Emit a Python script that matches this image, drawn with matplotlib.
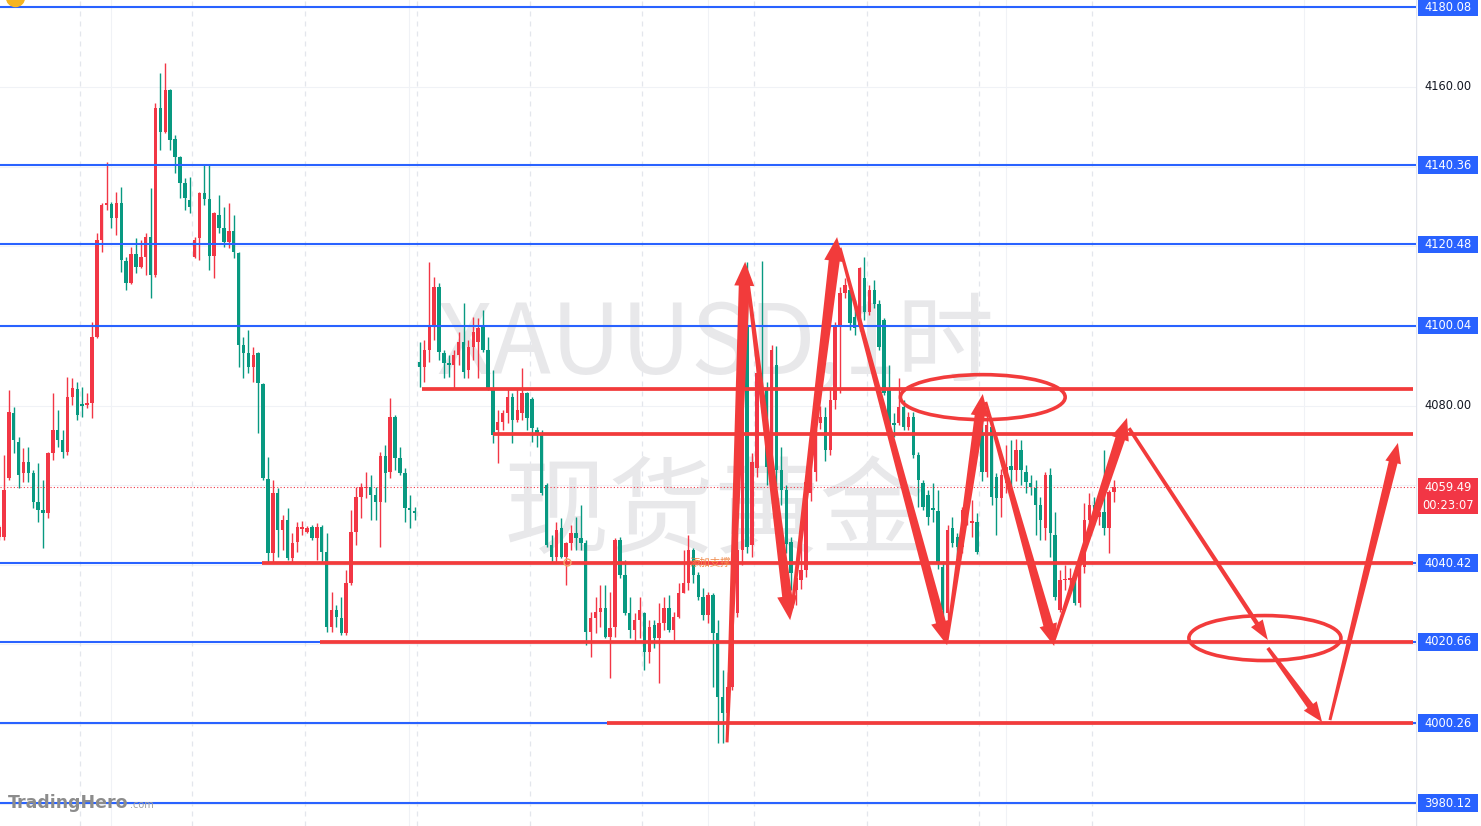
import numpy as np
import matplotlib.pyplot as plt
from matplotlib.patches import Polygon, Ellipse, Rectangle
from matplotlib.transforms import IdentityTransform

# XAUUSD 1h candles (index 0 = leftmost, partly cut)
opens = [
    4046.9, 4046.9, 4061.8, 4078.1, 4070.8, 4063.0, 4065.8, 4063.0, 4055.7, 4053.7,
    4053.0, 4068.1, 4073.9, 4071.3, 4068.3, 4082.1, 4084.1, 4080.2, 4080.1, 4080.6,
    4097.2, 4121.6, 4130.4, 4130.6, 4127.1, 4130.9, 4116.3, 4110.8, 4118.1, 4114.8,
    4117.3, 4122.3, 4112.8, 4154.8, 4148.7, 4159.3, 4146.9, 4142.4, 4135.9, 4131.6,
    4117.3, 4122.1, 4133.4, 4131.9, 4117.6, 4127.9, 4124.6, 4121.1, 4123.9, 4118.3,
    4095.2, 4093.2, 4089.7, 4093.2, 4085.4, 4061.5, 4042.9, 4058.0, 4048.7, 4051.2,
    4041.7, 4045.7, 4049.0, 4048.2, 4049.5, 4046.7, 4049.5, 4043.2, 4024.3, 4028.6,
    4026.6, 4022.8, 4035.4, 4048.2, 4057.0, 4059.3, 4059.5, 4057.5, 4055.7, 4067.3,
    4063.3, 4077.1, 4066.8, 4063.0, 4054.2, 4053.3, 4090.9, 4089.7, 4093.9, 4100.2,
    4109.8, 4093.2, 4090.7, 4090.2, 4092.7, 4096.0, 4088.9, 4094.7, 4096.0, 4099.7,
    4093.9, 4083.9, 4073.9, 4075.8, 4078.1, 4082.1, 4076.3, 4078.1, 4083.1, 4081.6,
    4073.9, 4073.1, 4060.0, 4045.0, 4041.9, 4049.2, 4041.9, 4045.4, 4047.9, 4046.7,
    4045.4, 4023.1, 4026.6, 4028.1, 4029.1, 4021.8, 4024.3, 4046.2, 4037.4, 4027.8,
    4023.6, 4026.1, 4027.8, 4018.1, 4024.8, 4021.6, 4025.3, 4029.1, 4023.6, 4026.8,
    4032.9, 4035.4, 4043.7, 4037.4, 4031.9, 4027.3, 4032.4, 4022.8, 4006.7, 4002.7,
    4009.3, 4027.8, 4043.7, 4099.7, 4044.9, 4064.3, 4088.2, 4083.9, 4064.5, 4090.2,
    4063.8, 4058.8, 4045.6, 4033.6, 4036.2, 4038.6, 4058.0, 4063.3, 4075.6, 4077.1,
    4068.8, 4081.4, 4099.7, 4108.3, 4109.0, 4102.2, 4100.2, 4112.0, 4103.5, 4109.0,
    4105.6, 4101.5, 4083.9, 4075.6, 4075.6, 4079.6, 4074.6, 4077.1, 4067.6, 4060.5,
    4057.5, 4054.2, 4053.5, 4039.4, 4027.8, 4049.2, 4046.9, 4044.4, 4053.0, 4050.5,
    4050.7, 4072.6, 4063.3, 4074.6, 4062.0, 4056.7, 4060.5, 4064.8, 4063.8, 4068.8,
    4063.3, 4060.5, 4059.3, 4055.0, 4049.2, 4062.5, 4047.4, 4028.6, 4036.1, 4036.1,
    4036.9, 4030.4, 4039.4, 4051.2, 4055.0, 4052.0, 4053.2, 4049.2, 4058.3,
]
highs = [
    4050.0, 4067.6, 4083.9, 4079.6, 4072.1, 4069.3, 4069.6, 4063.8, 4065.5, 4061.3,
    4068.3, 4083.1, 4078.9, 4073.9, 4087.2, 4086.9, 4085.9, 4084.6, 4083.1, 4101.0,
    4123.3, 4130.9, 4141.2, 4131.1, 4133.6, 4134.9, 4117.3, 4119.8, 4122.1, 4121.6,
    4123.3, 4134.7, 4156.0, 4163.6, 4166.1, 4159.6, 4148.0, 4142.6, 4137.2, 4137.4,
    4122.3, 4133.6, 4140.4, 4140.4, 4128.6, 4132.9, 4129.9, 4130.9, 4127.9, 4118.6,
    4097.2, 4099.0, 4094.7, 4093.4, 4085.7, 4067.1, 4061.3, 4059.3, 4052.5, 4054.2,
    4047.9, 4050.7, 4051.0, 4049.7, 4050.0, 4050.5, 4050.0, 4047.9, 4033.1, 4029.9,
    4031.9, 4038.6, 4053.7, 4059.5, 4060.5, 4063.3, 4062.5, 4059.5, 4068.3, 4070.1,
    4081.9, 4077.6, 4069.6, 4064.3, 4057.5, 4054.5, 4095.9, 4096.5, 4116.1, 4112.3,
    4110.8, 4093.9, 4092.7, 4093.9, 4098.5, 4105.8, 4096.5, 4102.2, 4102.0, 4104.0,
    4097.2, 4088.9, 4078.9, 4078.9, 4084.4, 4083.1, 4084.4, 4089.4, 4083.4, 4082.1,
    4074.6, 4073.9, 4060.5, 4047.4, 4050.7, 4051.7, 4045.6, 4049.9, 4052.0, 4055.0,
    4046.2, 4028.1, 4031.9, 4034.9, 4034.9, 4033.1, 4046.7, 4046.9, 4041.2, 4031.9,
    4027.8, 4031.9, 4028.1, 4026.1, 4026.1, 4030.4, 4031.9, 4032.4, 4028.1, 4035.4,
    4043.7, 4047.4, 4044.2, 4038.1, 4034.1, 4033.1, 4032.9, 4026.1, 4013.5, 4013.0,
    4027.3, 4048.0, 4105.0, 4116.1, 4068.0, 4090.0, 4116.3, 4086.0, 4095.2, 4095.0,
    4069.6, 4060.0, 4047.0, 4040.0, 4050.7, 4062.0, 4066.0, 4074.0, 4080.0, 4079.6,
    4083.9, 4101.0, 4109.8, 4112.0, 4109.8, 4106.5, 4114.8, 4117.3, 4110.3, 4111.5,
    4106.5, 4102.0, 4090.2, 4078.0, 4086.9, 4081.4, 4078.4, 4078.4, 4068.3, 4061.3,
    4058.8, 4060.5, 4058.8, 4041.0, 4050.0, 4052.0, 4048.0, 4054.5, 4058.0, 4056.2,
    4053.0, 4076.0, 4079.5, 4076.0, 4063.0, 4064.0, 4070.0, 4071.3, 4071.5, 4071.3,
    4065.0, 4062.5, 4061.3, 4057.0, 4063.3, 4064.3, 4053.2, 4038.6, 4039.9, 4039.1,
    4038.6, 4040.4, 4055.5, 4058.0, 4057.0, 4056.0, 4068.8, 4058.8, 4061.3,
]
lows = [
    4046.2, 4046.2, 4061.3, 4068.1, 4059.3, 4060.8, 4060.8, 4054.2, 4050.7, 4044.2,
    4051.7, 4066.3, 4069.6, 4066.8, 4067.6, 4080.1, 4076.3, 4077.1, 4079.4, 4076.9,
    4097.0, 4118.6, 4129.1, 4124.6, 4122.8, 4113.5, 4109.0, 4110.6, 4113.3, 4114.5,
    4112.8, 4107.0, 4112.3, 4144.2, 4148.5, 4144.2, 4138.4, 4132.1, 4129.1, 4128.4,
    4117.1, 4116.6, 4130.4, 4114.0, 4112.0, 4123.3, 4119.8, 4119.6, 4117.1, 4089.7,
    4086.9, 4088.2, 4085.9, 4073.1, 4061.3, 4040.4, 4040.4, 4041.9, 4043.7, 4041.2,
    4040.4, 4043.2, 4047.5, 4047.9, 4046.2, 4041.2, 4040.4, 4023.1, 4023.1, 4024.3,
    4022.3, 4022.3, 4034.9, 4044.9, 4051.7, 4056.7, 4051.2, 4051.2, 4044.4, 4055.7,
    4061.8, 4063.8, 4062.5, 4050.7, 4049.2, 4051.2, 4084.6, 4085.9, 4090.9, 4096.5,
    4091.4, 4086.9, 4087.2, 4084.4, 4090.2, 4086.9, 4086.9, 4091.4, 4086.9, 4093.4,
    4083.9, 4070.6, 4065.5, 4073.9, 4075.6, 4070.6, 4075.8, 4076.3, 4073.9, 4070.8,
    4069.6, 4057.5, 4044.4, 4040.7, 4040.7, 4041.7, 4034.9, 4043.7, 4043.7, 4043.7,
    4019.8, 4016.8, 4022.8, 4024.3, 4021.6, 4011.5, 4021.8, 4036.6, 4027.3, 4021.6,
    4020.6, 4021.6, 4013.5, 4015.3, 4019.1, 4010.3, 4023.6, 4023.1, 4021.1, 4026.6,
    4032.9, 4033.6, 4035.4, 4031.1, 4026.1, 4025.3, 4009.3, 3995.2, 3995.2, 4001.0,
    4008.5, 4026.8, 4040.0, 4043.0, 4042.0, 4062.0, 4078.0, 4060.0, 4060.0, 4060.0,
    4055.0, 4043.0, 4033.6, 4030.0, 4034.0, 4037.0, 4056.0, 4061.0, 4074.0, 4066.0,
    4067.6, 4079.0, 4083.1, 4107.0, 4099.0, 4097.7, 4098.8, 4101.5, 4102.7, 4104.5,
    4093.9, 4082.6, 4073.9, 4072.0, 4075.1, 4073.9, 4073.9, 4066.8, 4054.5, 4053.7,
    4050.0, 4050.7, 4039.0, 4022.0, 4026.0, 4044.4, 4042.0, 4043.0, 4050.0, 4046.9,
    4042.8, 4061.0, 4062.0, 4055.0, 4047.4, 4052.0, 4058.0, 4059.0, 4061.0, 4060.0,
    4058.0, 4057.5, 4047.4, 4046.2, 4046.2, 4041.9, 4031.1, 4028.1, 4033.6, 4033.6,
    4029.9, 4029.4, 4038.0, 4049.9, 4050.0, 4050.0, 4047.4, 4042.9, 4055.7,
]
closes = [
    4049.5, 4058.8, 4078.4, 4071.3, 4062.5, 4065.8, 4063.0, 4055.7, 4053.7, 4053.0,
    4068.1, 4073.9, 4071.3, 4068.3, 4082.1, 4084.4, 4077.6, 4080.0, 4080.6, 4097.2,
    4121.6, 4130.4, 4130.6, 4127.1, 4130.9, 4116.6, 4110.8, 4118.1, 4114.8, 4117.3,
    4122.3, 4112.8, 4154.8, 4148.7, 4159.3, 4146.7, 4142.4, 4135.9, 4132.1, 4129.9,
    4121.6, 4133.4, 4131.9, 4117.6, 4128.4, 4124.6, 4121.1, 4123.9, 4118.6, 4095.2,
    4093.2, 4089.7, 4092.7, 4085.7, 4061.8, 4042.9, 4058.0, 4048.7, 4051.2, 4041.7,
    4045.4, 4049.5, 4049.5, 4049.2, 4046.7, 4049.5, 4043.2, 4024.3, 4028.6, 4026.8,
    4022.8, 4035.4, 4048.2, 4057.0, 4059.5, 4059.5, 4057.5, 4055.7, 4067.3, 4063.0,
    4077.1, 4066.8, 4063.0, 4054.2, 4053.7, 4053.1, 4089.7, 4093.9, 4100.2, 4109.8,
    4093.4, 4090.7, 4090.2, 4092.7, 4096.0, 4088.4, 4094.7, 4098.5, 4099.5, 4093.9,
    4084.4, 4072.6, 4075.8, 4078.1, 4082.1, 4076.3, 4078.9, 4083.1, 4076.9, 4074.3,
    4073.1, 4058.0, 4045.0, 4041.9, 4048.7, 4041.9, 4045.4, 4047.9, 4046.7, 4045.4,
    4023.1, 4026.6, 4028.1, 4029.1, 4021.8, 4024.1, 4046.2, 4037.4, 4027.8, 4023.6,
    4026.1, 4028.6, 4018.1, 4024.3, 4021.6, 4025.3, 4029.1, 4023.6, 4026.8, 4032.9,
    4035.4, 4043.7, 4037.4, 4031.9, 4027.3, 4032.4, 4022.8, 4006.7, 4002.7, 4009.3,
    4026.8, 4043.7, 4102.2, 4044.4, 4065.8, 4088.2, 4083.9, 4064.5, 4093.9, 4063.8,
    4058.8, 4045.3, 4037.9, 4036.6, 4038.6, 4060.8, 4064.0, 4072.1, 4077.1, 4068.8,
    4081.4, 4099.7, 4108.3, 4110.3, 4100.7, 4099.5, 4114.5, 4103.5, 4109.0, 4105.6,
    4094.7, 4083.1, 4075.1, 4075.1, 4079.6, 4074.6, 4077.1, 4067.6, 4061.3, 4054.5,
    4052.0, 4053.7, 4040.7, 4028.6, 4048.7, 4045.4, 4044.4, 4053.7, 4054.5, 4050.9,
    4043.2, 4063.3, 4075.1, 4057.0, 4056.7, 4062.5, 4064.5, 4063.8, 4068.8, 4063.8,
    4060.8, 4059.5, 4055.0, 4051.2, 4062.5, 4047.9, 4031.9, 4036.1, 4036.2, 4036.6,
    4030.4, 4039.4, 4051.2, 4055.0, 4052.5, 4053.2, 4049.2, 4058.3, 4059.49,
]

# horizontal levels drawn on the chart
blue_levels = [4180.08, 4140.36, 4120.48, 4100.04, 4040.42, 4020.66, 4000.26, 3980.12]
grid_labels = [4160.00, 4080.00]
red_levels = [4084.1, 4072.8, 4040.42, 4020.66, 4000.26]
red_starts = [86.5, 101.0, 53.8, 65.6, 124.3]   # candle index where each red line begins
last_price = 4059.49
countdown = "00:23:07"

# hand-drawn arrows: (tail, tip) in (candle index, price)
arrows = [
    ((148.9, 3995.4), (152.6, 4116.1)),
    ((152.8, 4114.5), (161.8, 4026.1)),
    ((162.2, 4029.1), (171.4, 4122.3)),
    ((172.0, 4119.6), (193.9, 4019.8)),
    ((193.9, 4021.1), (201.2, 4082.9)),
    ((201.8, 4080.9), (215.8, 4019.6)),
    ((215.8, 4021.1), (230.7, 4076.9)),
    ((231.1, 4074.3), (259.5, 4021.1)),
    ((259.5, 4019.1), (270.6, 4000.5)),
    ((272.2, 4001.0), (286.1, 4070.6)),
]
# ellipses: centre index, centre price, width (candles), height (price)
ellipses = [(201.2, 4082.1, 33.7, 11.3), (258.9, 4021.6, 31.1, 11.3)]

day_breaks = [17, 40, 63, 86, 109, 132, 155, 178, 201, 224]
time_grid = [22.9, 83.8, 145.0, 205.9, 266.9]
grid_prices = [3980, 4000, 4020, 4040, 4060, 4080, 4100, 4120, 4140, 4160, 4180]

W, H = 1481, 826
PLOT_W = 1416
YLIM = (3974.4, 4181.84)
XLIM = (0.2, 289.8)

UP = "#f23645"
DOWN = "#089981"
BLUE = "#2962ff"
RED = "#f23b3b"

# arrow widths in pixels: tail half width, shaft half width at head, head half width, head length
arrow_styles = [
    (1.5, 5.5, 10, 24), (1.5, 5.0, 10, 24), (1.5, 5.5, 10, 24), (1.5, 5.0, 10, 24),
    (1.5, 5.0, 9, 22), (1.5, 5.0, 9, 22), (1.5, 5.0, 9, 22),
    (1.8, 2.2, 7, 20), (1.8, 3.5, 8, 20), (1.5, 4.5, 8, 20),
]


def draw_arrow(ax, p0, p1, tail_hw, base_hw, head_hw, head_len):
    a = ax.transData.transform(p0)
    b = ax.transData.transform(p1)
    d = b - a
    u = d / np.hypot(*d)
    n = np.array([-u[1], u[0]])
    base = b - u * head_len
    pts = [a + n * tail_hw, base + n * base_hw, base + n * head_hw, b,
           base - n * head_hw, base - n * base_hw, a - n * tail_hw]
    ax.add_patch(Polygon(pts, closed=True, transform=IdentityTransform(),
                         facecolor=RED, edgecolor="none", zorder=7))


fig = plt.figure(figsize=(W / 100, H / 100), dpi=100)
fig.patch.set_facecolor("white")
ax = fig.add_axes([0, 0, PLOT_W / W, 1])
ax.set_xlim(*XLIM)
ax.set_ylim(*YLIM)
ax.axis("off")

# grid
for p in grid_prices:
    ax.axhline(p, color="#f0f2f6", lw=0.8, zorder=0)
for t in time_grid:
    ax.axvline(t, color="#f0f2f6", lw=0.8, zorder=0)
for t in day_breaks:
    ax.axvline(t - 0.5, color="#e3e6ec", lw=0.9, ls=(0, (4, 4)), zorder=0)

# watermark
cjk = ["Noto Sans CJK SC", "DejaVu Sans"]
ax.text(146.4, 4095.0, "XAUUSD,1时", fontsize=70, color="#e8e8ea", ha="center",
        va="center", family=cjk, zorder=0.5)
ax.text(146.4, 4052.5, "现货黄金", fontsize=76, color="#e8e8ea", ha="center",
        va="center", family=cjk, zorder=0.5)

# candles
o = np.array(opens)
h = np.array(highs)
l = np.array(lows)
c = np.array(closes)
x = np.arange(len(o))
col = np.where(c >= o, UP, DOWN)
ax.vlines(x, l, h, colors=col, lw=1.0, zorder=2)
bottom = np.minimum(o, c)
height = np.maximum(np.abs(c - o), 0.35)
ax.bar(x, height, bottom=bottom, width=0.7, color=col, linewidth=0, zorder=3)

# last price dotted line
ax.axhline(last_price, color=UP, lw=0.8, ls=(0, (1, 2)), zorder=2.5)

# levels
for p in blue_levels:
    ax.axhline(p, color=BLUE, lw=1.5, zorder=4)
for p, s in zip(red_levels, red_starts):
    ax.hlines(p, s, 289.2, color=RED, lw=2.7, zorder=5)

# small orange annotation
ax.plot(116.1, 4040.6, "o", ms=5, mfc="none", mec="#f4a46a", mew=1.0, zorder=5.5)
ax.text(145.5, 4040.6, "添加支撑", fontsize=7.5, color="#f08a4b", ha="center",
        va="center", family=cjk, zorder=5.5)

# ellipses and arrows
for cx, cy, ew, eh in ellipses:
    ax.add_patch(Ellipse((cx, cy), ew, eh, facecolor="none", edgecolor=RED,
                         lw=2.6, zorder=6))
for (p0, p1), st in zip(arrows, arrow_styles):
    draw_arrow(ax, p0, p1, *st)

# top-left icon remnants
ax.plot(3.3, 4182.6, "o", ms=13, color="#f5b41f", zorder=8, clip_on=True)

# logo
fig.text(8 / W, 1 - 803 / H, "TradingHero", fontsize=12.5, fontweight="bold",
         color="#8c8c8c", va="center", ha="left")
fig.text(130 / W, 1 - 805 / H, ".com", fontsize=7, color="#a0a0a0",
         va="center", ha="left")

# price scale
pax = fig.add_axes([PLOT_W / W, 0, 1 - PLOT_W / W, 1])
pax.set_xlim(0, 65)
pax.set_ylim(*YLIM)
pax.axis("off")
pax.axvline(0.3, color="#e0e3eb", lw=1.0)
for p in blue_levels:
    pax.add_patch(Rectangle((2, p - 2.2), 60, 4.4, facecolor=BLUE, edgecolor="none"))
    pax.text(32, p, f"{p:.2f}", color="white", fontsize=8.3, ha="center", va="center")
for p in grid_labels:
    pax.text(32, p, f"{p:.2f}", color="#131722", fontsize=8.3, ha="center", va="center")
pax.add_patch(Rectangle((2, last_price - 6.7), 60, 9.0, facecolor=UP, edgecolor="none"))
pax.text(32, last_price, f"{last_price:.2f}", color="white", fontsize=8.3,
         ha="center", va="center")
pax.text(32, last_price - 4.5, countdown, color="white", fontsize=8.3,
         ha="center", va="center")

fig.savefig("out.png", dpi=100)
